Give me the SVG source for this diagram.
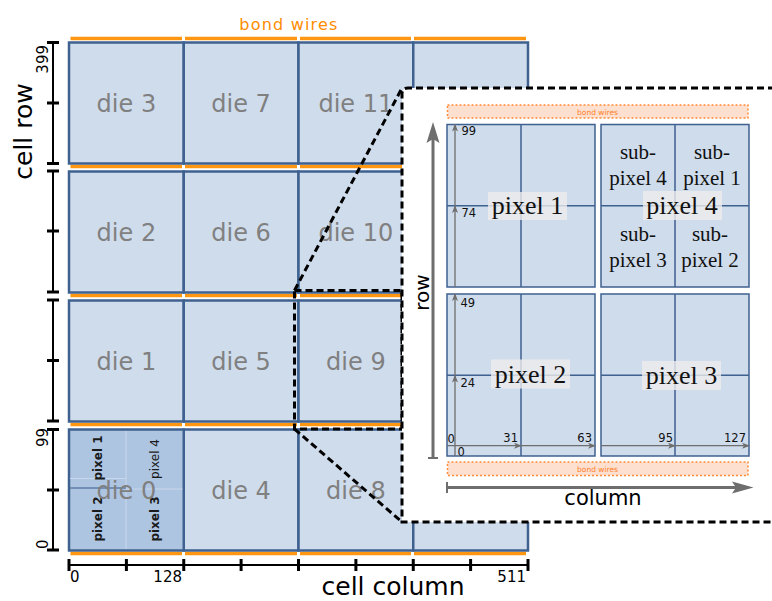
<svg xmlns="http://www.w3.org/2000/svg" width="772" height="601" viewBox="0 0 772 601">
<style>
.die{fill:#cfdcec;stroke:#3f6190;stroke-width:2.5}
.die0{fill:#aec5e2}
.dl{font-family:"DejaVu Sans",sans-serif;font-size:24px;fill:#808080;text-anchor:middle}
.wire{stroke:#ff9612;stroke-width:3.5}
.ax{stroke:#000;stroke-width:2;fill:none}
.tk{stroke:#000;stroke-width:3}
.axl{font-family:"DejaVu Sans",sans-serif;font-size:15px;fill:#000}
.big{font-family:"DejaVu Sans",sans-serif;font-size:25px;fill:#000}
.pl{font-family:"DejaVu Sans",sans-serif;font-size:12px;fill:#1a1a1a;text-anchor:middle}
.dash{stroke:#000;stroke-width:3;stroke-dasharray:7 4;fill:none}
.pix{fill:#cfdcec;stroke:#3f6190;stroke-width:1.5}
.pline{stroke:#3f6190;stroke-width:1.5}
.bw{fill:#fde0cf;stroke:#ff8c3a;stroke-width:1.5;stroke-dasharray:2 2}
.bwt{font-family:"DejaVu Sans",sans-serif;font-size:7.5px;fill:#ff7f2a;text-anchor:middle}
.ser{font-family:"Liberation Serif",serif;fill:#111;text-anchor:middle}
.lbox{fill:#ececec;opacity:0.8}
.sm{font-family:"DejaVu Sans",sans-serif;font-size:11.5px;fill:#111}
.ga{stroke:#6e6e6e;stroke-width:1.3;fill:none}
</style>
<defs>
<marker id="ah" markerWidth="8" markerHeight="6" refX="7" refY="3" orient="auto" markerUnits="userSpaceOnUse">
<path d="M0,0 L8,3 L0,6 L2,3 z" fill="#6e6e6e"/>
</marker>
</defs>

<g id="bond-wires-main">
<text x="289" y="30" font-family="DejaVu Sans, sans-serif" font-size="16" fill="#ff8c00" text-anchor="middle" letter-spacing="1.2">bond wires</text>
<g class="wire">
<line x1="70.5" y1="38.5" x2="182" y2="38.5"/><line x1="185" y1="38.5" x2="297" y2="38.5"/><line x1="300" y1="38.5" x2="411" y2="38.5"/><line x1="414" y1="38.5" x2="526" y2="38.5"/>
<line x1="70.5" y1="166.5" x2="182" y2="166.5"/><line x1="185" y1="166.5" x2="297" y2="166.5"/><line x1="300" y1="166.5" x2="411" y2="166.5"/><line x1="414" y1="166.5" x2="526" y2="166.5"/>
<line x1="70.5" y1="295.5" x2="182" y2="295.5"/><line x1="185" y1="295.5" x2="297" y2="295.5"/><line x1="300" y1="295.5" x2="411" y2="295.5"/><line x1="414" y1="295.5" x2="526" y2="295.5"/>
<line x1="70.5" y1="424.5" x2="182" y2="424.5"/><line x1="185" y1="424.5" x2="297" y2="424.5"/><line x1="300" y1="424.5" x2="411" y2="424.5"/><line x1="414" y1="424.5" x2="526" y2="424.5"/>
<line x1="70.5" y1="553.5" x2="182" y2="553.5"/><line x1="185" y1="553.5" x2="297" y2="553.5"/><line x1="300" y1="553.5" x2="411" y2="553.5"/><line x1="414" y1="553.5" x2="526" y2="553.5"/>
</g>
</g>

<g id="die3"><rect class="die" x="69" y="42.5" width="114.75" height="121"/><text class="dl" x="126.4" y="111.5">die 3</text></g>
<g id="die2"><rect class="die" x="69" y="171.5" width="114.75" height="121"/><text class="dl" x="126.4" y="240.5">die 2</text></g>
<g id="die1"><rect class="die" x="69" y="300.5" width="114.75" height="121"/><text class="dl" x="126.4" y="369.5">die 1</text></g>
<g id="die7"><rect class="die" x="183.75" y="42.5" width="114.75" height="121"/><text class="dl" x="241.1" y="111.5">die 7</text></g>
<g id="die6"><rect class="die" x="183.75" y="171.5" width="114.75" height="121"/><text class="dl" x="241.1" y="240.5">die 6</text></g>
<g id="die5"><rect class="die" x="183.75" y="300.5" width="114.75" height="121"/><text class="dl" x="241.1" y="369.5">die 5</text></g>
<g id="die4"><rect class="die" x="183.75" y="429.5" width="114.75" height="121"/><text class="dl" x="241.1" y="498.5">die 4</text></g>
<g id="die11"><rect class="die" x="298.5" y="42.5" width="114.75" height="121"/><text class="dl" x="355.9" y="111.5">die 11</text></g>
<g id="die10"><rect class="die" x="298.5" y="171.5" width="114.75" height="121"/><text class="dl" x="355.9" y="240.5">die 10</text></g>
<g id="die9"><rect class="die" x="298.5" y="300.5" width="114.75" height="121"/><text class="dl" x="355.9" y="369.5">die 9</text></g>
<g id="die8"><rect class="die" x="298.5" y="429.5" width="114.75" height="121"/><text class="dl" x="355.9" y="498.5">die 8</text></g>
<g id="die15"><rect class="die" x="413.25" y="42.5" width="114.75" height="121"/></g>
<g id="die14"><rect class="die" x="413.25" y="171.5" width="114.75" height="121"/></g>
<g id="die13"><rect class="die" x="413.25" y="300.5" width="114.75" height="121"/></g>
<g id="die12"><rect class="die" x="413.25" y="429.5" width="114.75" height="121"/></g>

<g id="die0">
<rect class="die die0" x="69" y="429.5" width="114.75" height="121"/>
<line x1="126" y1="431" x2="126" y2="549" stroke="#c9d7ea" stroke-width="1"/>
<line x1="70" y1="478.5" x2="126" y2="478.5" stroke="#c9d7ea" stroke-width="1"/>
<line x1="70" y1="488" x2="126" y2="488" stroke="#5b7ba7" stroke-width="1.5"/>
<line x1="126" y1="489" x2="182.5" y2="489" stroke="#c9d7ea" stroke-width="1"/>
<text class="pl" font-weight="bold" transform="translate(97.5,458) rotate(-90)" y="4">pixel 1</text>
<text class="pl" font-weight="bold" transform="translate(97.5,519) rotate(-90)" y="4">pixel 2</text>
<text class="pl" font-weight="bold" transform="translate(154.5,519) rotate(-90)" y="4">pixel 3</text>
<text class="pl" transform="translate(154.5,459) rotate(-90)" y="4">pixel 4</text>
<text class="dl" x="126.4" y="498.5">die 0</text>
</g>

<g id="row-axis">
<g class="ax"><line x1="53" y1="42.5" x2="53" y2="163.5"/><line x1="53" y1="171" x2="53" y2="292"/><line x1="53" y1="300" x2="53" y2="421"/><line x1="53" y1="429.5" x2="53" y2="550"/></g>
<g class="tk">
<line x1="47" y1="42.5" x2="59" y2="42.5"/><line x1="47" y1="103" x2="59" y2="103"/><line x1="47" y1="163.5" x2="59" y2="163.5"/>
<line x1="47" y1="171" x2="59" y2="171"/><line x1="47" y1="231" x2="59" y2="231"/><line x1="47" y1="292" x2="59" y2="292"/>
<line x1="47" y1="300" x2="59" y2="300"/><line x1="47" y1="360.5" x2="59" y2="360.5"/><line x1="47" y1="421" x2="59" y2="421"/>
<line x1="47" y1="429.5" x2="59" y2="429.5"/><line x1="47" y1="490" x2="59" y2="490"/><line x1="47" y1="550" x2="59" y2="550"/>
</g>
<text class="axl" transform="translate(48,45) rotate(-90)" text-anchor="end">399</text>
<text class="axl" transform="translate(48,428) rotate(-90)" text-anchor="end">99</text>
<text class="axl" transform="translate(48,549) rotate(-90)" text-anchor="start">0</text>
<text class="big" transform="translate(32,131.5) rotate(-90)" text-anchor="middle">cell row</text>
</g>

<g id="column-axis">
<line class="ax" x1="69" y1="565" x2="528" y2="565"/>
<g class="tk">
<line x1="69" y1="559" x2="69" y2="571"/><line x1="126.4" y1="559" x2="126.4" y2="571"/><line x1="183.75" y1="559" x2="183.75" y2="571"/><line x1="241.1" y1="559" x2="241.1" y2="571"/><line x1="298.5" y1="559" x2="298.5" y2="571"/><line x1="355.9" y1="559" x2="355.9" y2="571"/><line x1="413.25" y1="559" x2="413.25" y2="571"/><line x1="470.6" y1="559" x2="470.6" y2="571"/><line x1="528" y1="559" x2="528" y2="571"/>
</g>
<text class="axl" x="70" y="582">0</text>
<text class="axl" x="182" y="582" text-anchor="end">128</text>
<text class="axl" x="526" y="582" text-anchor="end">511</text>
<text class="big" x="393" y="594.5" text-anchor="middle" font-size="24">cell column</text>
</g>

<g id="connectors">
<rect class="dash" x="294.5" y="290.5" width="107.5" height="138.5"/>
<line class="dash" x1="294.5" y1="290.5" x2="402" y2="88"/>
<line class="dash" x1="294.5" y1="429" x2="402" y2="522"/>
</g>

<g id="inset">
<path d="M775,88 H408 Q402,88 402,94 V522 H775" fill="#fff" stroke="#000" stroke-width="3" stroke-dasharray="7 4"/>
<g id="bond-wires-top"><rect class="bw" x="447.5" y="105" width="300.5" height="13"/><text class="bwt" x="597.5" y="114.5">bond wires</text></g>
<g id="bond-wires-bottom"><rect class="bw" x="447.5" y="462" width="300.5" height="13.5"/><text class="bwt" x="597.5" y="471.5">bond wires</text></g>

<g id="pixel1">
<rect class="pix" x="447" y="124.5" width="148" height="162.5"/>
<line class="pline" x1="521" y1="124.5" x2="521" y2="287"/><line class="pline" x1="447" y1="205.7" x2="595" y2="205.7"/>
</g>
<g id="pixel4">
<rect class="pix" x="601" y="124.5" width="148" height="162.5"/>
<line class="pline" x1="675" y1="124.5" x2="675" y2="287"/><line class="pline" x1="601" y1="205.7" x2="749" y2="205.7"/>
</g>
<g id="pixel2">
<rect class="pix" x="447" y="294" width="148" height="162"/>
<line class="pline" x1="521" y1="294" x2="521" y2="456"/><line class="pline" x1="447" y1="375.3" x2="595" y2="375.3"/>
</g>
<g id="pixel3">
<rect class="pix" x="601" y="294" width="148" height="162"/>
<line class="pline" x1="675" y1="294" x2="675" y2="456"/><line class="pline" x1="601" y1="375.3" x2="749" y2="375.3"/>
</g>

<g id="small-axes">
<line class="ga" x1="455" y1="287" x2="455" y2="206" marker-end="url(#ah)"/>
<line class="ga" x1="455" y1="206" x2="455" y2="124.5" marker-end="url(#ah)"/>
<line class="ga" x1="455" y1="456" x2="455" y2="375.5" marker-end="url(#ah)"/>
<line class="ga" x1="455" y1="375.5" x2="455" y2="294" marker-end="url(#ah)"/>
<line class="ga" x1="447" y1="445.7" x2="521" y2="445.7" marker-end="url(#ah)"/>
<line class="ga" x1="521" y1="445.7" x2="595" y2="445.7" marker-end="url(#ah)"/>
<line class="ga" x1="601" y1="445.7" x2="675" y2="445.7" marker-end="url(#ah)"/>
<line class="ga" x1="675" y1="445.7" x2="749" y2="445.7" marker-end="url(#ah)"/>
<text class="sm" x="461.5" y="135">99</text>
<text class="sm" x="461.5" y="217">74</text>
<text class="sm" x="460.5" y="307">49</text>
<text class="sm" x="460.5" y="387">24</text>
<text class="sm" x="447.5" y="442.5">0</text>
<text class="sm" x="457.5" y="456">0</text>
<text class="sm" x="518" y="441.5" text-anchor="end">31</text>
<text class="sm" x="592" y="441.5" text-anchor="end">63</text>
<text class="sm" x="673" y="441.5" text-anchor="end">95</text>
<text class="sm" x="746" y="441.5" text-anchor="end">127</text>
</g>

<g id="pixel-labels">
<rect class="lbox" x="488" y="192" width="79" height="28"/>
<text class="ser" x="527.5" y="214" font-size="26">pixel 1</text>
<rect class="lbox" x="643" y="191" width="79" height="29"/>
<text class="ser" x="682" y="213.5" font-size="26">pixel 4</text>
<rect class="lbox" x="491" y="359.5" width="79" height="29"/>
<text class="ser" x="530.5" y="382.5" font-size="26">pixel 2</text>
<rect class="lbox" x="642" y="361" width="79" height="29"/>
<text class="ser" x="681.5" y="384" font-size="26">pixel 3</text>
<text class="ser" font-size="21" x="638" y="159">sub-</text><text class="ser" font-size="21" x="638" y="185">pixel 4</text>
<text class="ser" font-size="21" x="712" y="159">sub-</text><text class="ser" font-size="21" x="712" y="185">pixel 1</text>
<text class="ser" font-size="21" x="638" y="241">sub-</text><text class="ser" font-size="21" x="638" y="267">pixel 3</text>
<text class="ser" font-size="21" x="710" y="241">sub-</text><text class="ser" font-size="21" x="710" y="267">pixel 2</text>
</g>

<g id="row-arrow">
<line x1="433" y1="458" x2="433" y2="138" stroke="#6e6e6e" stroke-width="3"/>
<line x1="428" y1="458" x2="438" y2="458" stroke="#6e6e6e" stroke-width="2"/>
<polygon points="433,122 439.5,143 433,139 426.5,143" fill="#6e6e6e"/>
<text transform="translate(429,292.5) rotate(-90)" font-family="DejaVu Sans, sans-serif" font-size="20" fill="#000" text-anchor="middle">row</text>
</g>
<g id="column-arrow">
<line x1="447" y1="487.5" x2="738" y2="487.5" stroke="#6e6e6e" stroke-width="3"/>
<line x1="447" y1="482" x2="447" y2="493" stroke="#6e6e6e" stroke-width="2"/>
<polygon points="753.5,487.5 732,481.5 736,487.5 732,493.5" fill="#6e6e6e"/>
<text x="603" y="505" font-family="DejaVu Sans, sans-serif" font-size="21" fill="#000" text-anchor="middle">column</text>
</g>
</g>
</svg>
